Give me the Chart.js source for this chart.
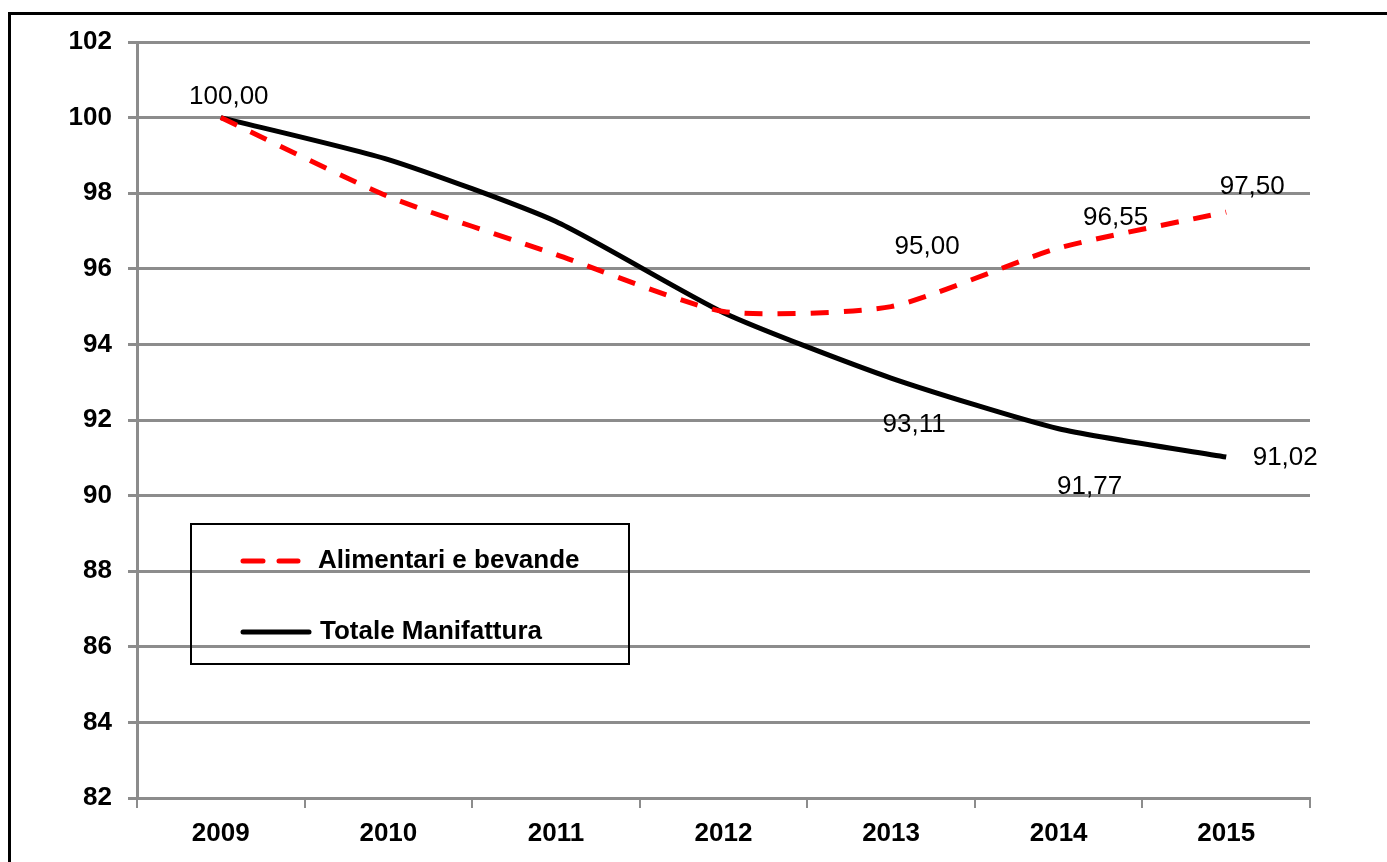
<!DOCTYPE html>
<html>
<head>
<meta charset="utf-8">
<script src="https://cdn.jsdelivr.net/npm/chart.js@4"></script>
<style>
    html, body { margin: 0; padding: 0; background: #fff; overflow: hidden; }
    #wrap { position: relative; width: 1387px; height: 862px; }
    #chart { position: absolute; left: 0; top: 0; }
    #frame {
        position: absolute; left: 8px; top: 12px; width: 1400px; height: 900px;
        border-left: 3px solid #000; border-top: 3px solid #000; pointer-events: none;
    }
</style>
</head>
<body>
<div id="wrap">
    <canvas id="chart" width="1387" height="862"></canvas>
    <div id="frame"></div>
</div>
<script>
const years = ["2009", "2010", "2011", "2012", "2013", "2014", "2015"];
const alimentari = [100.00, 97.91, 96.38, 94.87, 95.00, 96.55, 97.50];
const manifattura = [100.00, 98.89, 97.25, 94.84, 93.11, 91.77, 91.02];
const seriesNames = ["Alimentari e bevande", "Totale Manifattura"];
const yTicks = [82, 84, 86, 88, 90, 92, 94, 96, 98, 100, 102];

// which points carry a value label, and where it sits relative to the point
const labelSpots = [
    { ds: 1, i: 0, dx: 8, dy: -21 },
    { ds: 0, i: 4, dx: 36, dy: -60 },
    { ds: 0, i: 5, dx: 57, dy: -30 },
    { ds: 0, i: 6, dx: 26, dy: -25 },
    { ds: 1, i: 4, dx: 23, dy: 47 },
    { ds: 1, i: 5, dx: 31, dy: 58 },
    { ds: 1, i: 6, dx: 59, dy: 1 }
];

const GRID = "#8c8c8c";
const FONT = "'Liberation Sans', Arial, sans-serif";

const fmt = (v) => v.toFixed(2).replace(".", ",");

const valueLabels = {
    id: "valueLabels",
    afterDatasetsDraw(chart) {
        const ctx = chart.ctx;
        ctx.save();
        ctx.font = "26px " + FONT;
        ctx.fillStyle = "#000";
        ctx.textAlign = "center";
        ctx.textBaseline = "middle";
        for (const s of labelSpots) {
            const pt = chart.getDatasetMeta(s.ds).data[s.i];
            const v = chart.data.datasets[s.ds].data[s.i];
            ctx.fillText(fmt(v), pt.x + s.dx, pt.y + s.dy);
        }
        ctx.restore();
    }
};

const boxLegend = {
    id: "boxLegend",
    afterDraw(chart) {
        const ctx = chart.ctx;
        const x = 191, y = 524, w = 438, h = 140;
        ctx.save();
        ctx.strokeStyle = "#000";
        ctx.lineWidth = 2;
        ctx.strokeRect(x, y, w, h);
        // the gridlines show through the box in the reference, so no fill
        ctx.lineWidth = 5;
        ctx.lineCap = "round";
        ctx.strokeStyle = "#ff0000";
        ctx.setLineDash([20, 16]);
        ctx.beginPath();
        ctx.moveTo(243, 561);
        ctx.lineTo(298, 561);
        ctx.stroke();
        ctx.setLineDash([]);
        ctx.strokeStyle = "#000";
        ctx.beginPath();
        ctx.moveTo(243, 632);
        ctx.lineTo(309, 632);
        ctx.stroke();
        ctx.font = "bold 26px " + FONT;
        ctx.fillStyle = "#000";
        ctx.textBaseline = "middle";
        ctx.fillText(seriesNames[0], 318, 561);
        ctx.fillText(seriesNames[1], 320, 632);
        ctx.restore();
    }
};

new Chart(document.getElementById("chart").getContext("2d"), {
    type: "line",
    data: {
        labels: years,
        datasets: [
            {
                label: seriesNames[0],
                data: alimentari,
                borderColor: "#ff0000",
                borderWidth: 5,
                borderDash: [18, 15],
                tension: 0.2,
                pointRadius: 0,
                fill: false
            },
            {
                label: seriesNames[1],
                data: manifattura,
                borderColor: "#000",
                borderWidth: 5,
                tension: 0.2,
                pointRadius: 0,
                fill: false
            }
        ]
    },
    options: {
        responsive: false,
        animation: false,
        layout: { padding: { top: 42, right: 77, left: 0, bottom: 0 } },
        plugins: {
            legend: { display: false },
            tooltip: { enabled: false }
        },
        scales: {
            x: {
                type: "category",
                offset: true,
                afterFit: (s) => { s.height = 64; },
                grid: {
                    offset: true,
                    drawOnChartArea: false,
                    drawTicks: true,
                    tickLength: 10,
                    color: GRID,
                    lineWidth: 2
                },
                border: { color: GRID, width: 3 },
                ticks: {
                    color: "#000",
                    padding: 10,
                    font: { family: FONT, size: 26, weight: "bold" }
                }
            },
            y: {
                min: 82,
                max: 102,
                afterFit: (s) => { s.width = 137; },
                afterBuildTicks: (s) => { s.ticks = yTicks.map(v => ({ value: v })); },
                grid: {
                    color: GRID,
                    lineWidth: 3,
                    tickLength: 9
                },
                border: { color: GRID, width: 3 },
                ticks: {
                    color: "#000",
                    padding: 16,
                    font: { family: FONT, size: 26, weight: "bold" }
                }
            }
        }
    },
    plugins: [valueLabels, boxLegend]
});
</script>
</body>
</html>
